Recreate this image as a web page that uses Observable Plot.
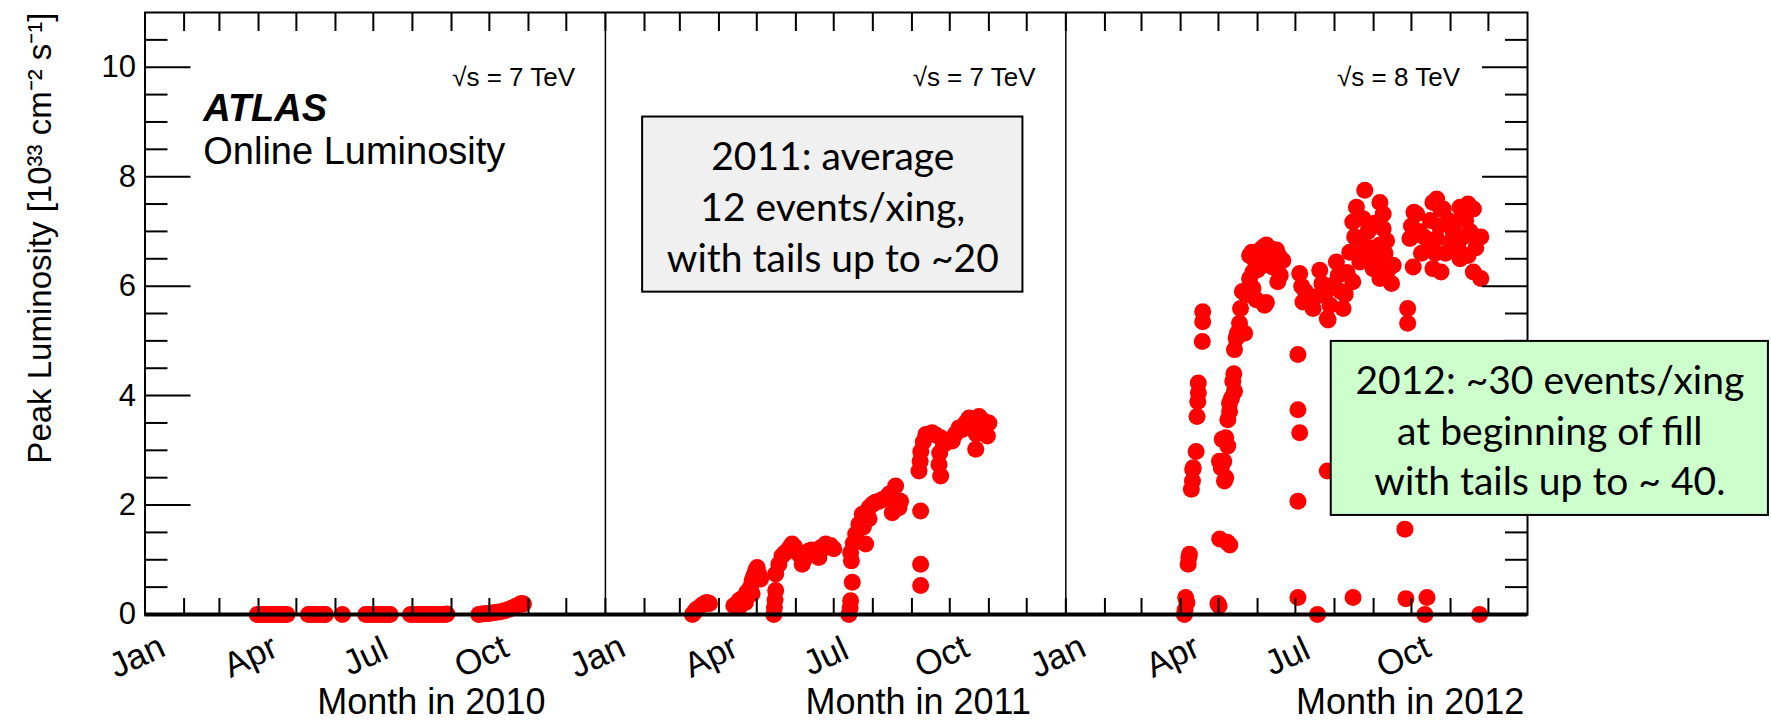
<!DOCTYPE html>
<html>
<head>
<meta charset="utf-8">
<script src="https://cdn.jsdelivr.net/npm/d3@7"></script>
<script src="https://cdn.jsdelivr.net/npm/@observablehq/plot@0.6"></script>
<style>
  body { margin: 0; background: #fff; }
  #chart svg { display: block; }
</style>
</head>
<body>
<div id="chart"></div>
<script>
// Peak luminosity per fill: [day of year (Jan 1 = 1), peak luminosity in 10^33 cm^-2 s^-1]
const lumi2010 = [
  [90,0],[92,0],[94,0],[96,0],[98,0],[100,0],[102,0],[104,0],[106,0],[108,0],[110,0],[112,0],[113.5,0],
  [130.5,0],[133,0],[135.5,0],[138,0],[140.5,0],[143,0],[144,0],[157.5,0],
  [176,0],[178.5,0],[181,0],[183.5,0],[186,0],[188.5,0],[191,0],[193.5,0],[195.3,0],
  [211.5,0],[214,0],[216.5,0],[219,0],[221.5,0],[224,0],[226.5,0],[229,0],[231.5,0],[234,0],[236.5,0],[239,0],[240.3,0.01],
  [265.6,0],[268,0.01],[271,0.02],[274,0.02],[277,0.03],[280,0.04],[283,0.05],[286,0.07],[289,0.09],[292,0.12],[295,0.15],[297.5,0.18],[299.5,0.2],[301,0.19]
];
const lumi2011 = [
  [70,0.0],[71.5,0.04],[73,0.09],[75,0.12],[77.5,0.17],[79.5,0.2],[81.5,0.22],[83.5,0.2],
  [102.8,0.16],[104.5,0.18],[106.8,0.25],[106.8,0.13],[108.5,0.28],[110.7,0.31],[112,0.22],[113,0.4],[114.7,0.44],[116,0.5],[117.3,0.62],[117.3,0.38],[118.5,0.7],[120,0.8],[121.3,0.86],[122.5,0.75],[124,0.65],
  [134.5,0.0],[135,0.13],[135.5,0.27],[136,0.44],
  [136,0.74],[138.5,0.92],[141,1.07],[143,1.12],[145,1.16],[147,1.22],[149,1.29],[151,1.24],[152.5,1.15],[154.5,1.1],[157,0.92],[158.5,1.0],[160.5,1.1],[162.3,1.16],[164.5,1.18],[167.6,1.1],[170.2,1.04],[171.6,1.22],[173.5,1.2],[175.6,1.29],[177.5,1.25],[179.5,1.26],[182,1.2],
  [194,0.0],[195,0.12],[195.4,0.25],[196.7,0.59],[196,0.98],[195.4,1.13],[197.5,1.3],[199.4,1.47],[202,1.65],[204.6,1.83],[205.5,1.6],[207.3,1.29],[209.9,1.95],[210,1.75],[212.5,2.01],[215,2.05],[217.9,2.07],[220.5,2.1],[223.2,2.13],[226,2.2],[228.4,1.86],[231.1,2.35],[233.7,1.95],[235,2.07],
  [250.9,0.53],[250.9,0.92],[250.9,1.89],
  [249.6,2.62],[250.5,2.8],[251,2.98],[253,3.15],[255,3.29],[257.5,3.3],[260,3.32],[263,3.28],[266.8,3.23],[266.8,2.53],[265.5,2.74],[266,2.95],[269,3.1],[272,3.15],[276,3.17],[278.5,3.3],[281.3,3.41],[284,3.38],[286.5,3.5],[289.3,3.59],[292,3.55],[294.6,3.02],[295,3.3],[297.2,3.62],[300,3.55],[302.5,3.47],[303.8,3.26],[305,3.5]
];
const lumi2012 = [
  [95,0.0],[95.5,0.08],[96,0.31],[97,0.22],[98,0.92],[98.5,1.04],[99,1.1],
  [100.5,2.29],[101.4,2.44],[101.6,2.65],[102,2.68],[104.3,2.98],[105,3.62],[105.6,3.89],[106.1,4.05],[106,4.23],[109.2,4.99],[109.5,5.35],[109.5,5.53],
  [121.5,0.2],[122.5,0.16],[123,1.38],[129,1.32],[131,1.27],
  [122.8,2.8],[124.2,2.68],[126.8,2.44],[127.8,2.5],[126.2,2.8],[125,3.2],[127.8,3.23],[129.4,3.08],[129.4,3.56],[130.8,3.71],[130.8,3.86],[132.3,3.95],[133.4,4.26],[134.7,4.08],[134.2,4.4],[134.7,4.84],[136.1,5.05],[137,5.14],[138.7,5.32],[139.5,5.59],[142.7,5.14],[141,5.9],[144,5.84],[146.7,6.14],[149.3,5.96],[152,5.75],[158.6,5.65],
  [146.7,6.56],[148.5,6.62],[150,6.5],[152,6.62],[154.6,6.5],[156,6.68],[158,6.72],[160,6.75],[162,6.7],[164,6.68],[166,6.6],[168,6.66],[170,6.55],[173,6.47],[149.3,6.26],[153,6.3],[157,6.38],[161,6.4],[165,6.35],[169,6.08],[171,6.2],[160,5.7],
  [185,0.31],[185,2.07],[186.4,3.32],[185,3.74],[185,4.75],
  [186.4,6.23],[189,5.71],[188,6.0],[191,5.9],[194,5.75],[197,5.59],[199,5.8],[202.3,6.29],[204,6.05],[206.2,5.84],[208.3,5.41],[208.9,5.38],[210.5,5.65],[212.8,6.02],[215.5,6.44],[217,6.2],[219,5.9],[220.8,5.59],[222.5,5.85],[224,6.25],[226.1,6.62],[228.5,6.08],
  [200.5,0.0],[208.3,2.62],[228.7,0.31],
  [228.5,7.17],[230,6.9],[231.4,7.44],[233,6.6],[234.1,6.87],[234.1,6.44],[236.7,7.23],[238,7.75],[239.4,6.56],[240.5,7.0],[242.5,6.7],[244.6,6.32],[246,7.15],[247.5,6.44],[250,7.53],[250,6.75],[250,6.14],[252.6,7.32],[252.6,7.05],[254,6.6],[255.3,6.83],[256.5,6.3],[259.2,6.05],[260.5,6.38],
  [269.8,1.56],[270.6,0.29],[272,5.59],[272,5.32],
  [273.8,6.87],[275,7.1],[276.4,6.35],[277,7.35],[279.1,7.32],[281,7.0],[283,6.6],[285,6.9],[288.9,6.81],[290,7.2],[292,7.53],[292,6.32],[294,6.6],[295,7.59],[295,6.87],[297,7.1],[298.4,7.41],[298.4,6.26],[300.2,7.41],[302,6.6],[304.3,7.2],[306,6.8],[308,7.0],[310.3,6.93],[310.3,7.17],[312,6.7],[313.5,7.44],[313.5,6.5],[316,6.9],[318,7.2],[319.9,7.5],[319.9,6.56],[321.5,7.0],[324.1,7.41],[324.1,6.26],[326,6.7],[327,6.9],[330,6.9],[330,6.14],
  [285.7,0.0],[287.3,0.31],[329,0.0]
];

const years = [2010, 2011, 2012];
const yearSeries = [lumi2010, lumi2011, lumi2012];

// axis ticks and labels
const quarterNames = ["Jan", "Apr", "Jul", "Oct"];
const yMajorTicks = [0, 2, 4, 6, 8, 10];
const yMinorTicks = [0.5, 1, 1.5, 2.5, 3, 3.5, 4.5, 5, 5.5, 6.5, 7, 7.5, 8.5, 9, 9.5, 10.5];
const yTitle = "Peak Luminosity [10³³ cm⁻² s⁻¹]";
const xTitles = [
  {date: "2010-08-16", label: "Month in 2010"},
  {date: "2011-09-06", label: "Month in 2011"},
  {date: "2012-09-30", label: "Month in 2012"}
];

// annotations
const energyLabels = [
  {date: "2010-12-08", y: 9.65, text: "√s = 7 TeV"},
  {date: "2011-12-08", y: 9.65, text: "√s = 7 TeV"},
  {date: "2012-11-08T12:00", y: 9.65, text: "√s = 8 TeV"}
];
const experimentLabel = [{date: "2010-02-16T05:00", y: 9.0, text: "ATLAS\nOnline Luminosity"}];
const noteBoxes = [
  {x1: "2011-01-30T12:00", x2: "2011-11-28", y1: 5.89, y2: 9.09, fill: "#f0f0f0",
   text: "2011: average\n12 events/xing,\nwith tails up to ~20"},
  {x1: "2012-07-29T10:00", x2: "2013-07-11", y1: 1.81, y2: 4.99, fill: "#ccffcc",
   text: "2012: ~30 events/xing\nat beginning of fill\nwith tails up to ~ 40."}
];

const DAY = 864e5;
const points = years.flatMap((yr, i) =>
  yearSeries[i].map(([day, lumi]) => ({date: new Date(Date.UTC(yr, 0, 1) + (day - 1) * DAY), lumi}))
);
const boxes = noteBoxes.map(b => {
  const x1 = new Date(b.x1), x2 = new Date(b.x2);
  return {...b, x1, x2, cx: new Date((+x1 + +x2) / 2), cy: (b.y1 + b.y2) / 2};
});
const parse = rows => rows.map(r => ({...r, date: new Date(r.date)}));

const xStart = new Date(Date.UTC(2010, 0, 1));
const xEnd = new Date(Date.UTC(2013, 0, 1));
const monthTicks = d3.utcMonth.range(xStart, xEnd);
const quarterTicks = d3.utcMonth.every(3).range(xStart, xEnd);
const yearStarts = years.slice(1).map(y => new Date(Date.UTC(y, 0, 1)));
const blank = () => "";

// tick lengths (px), drawn pointing into the frame
const majorLen = 46, minorLen = 23, bottomLen = 16, topLen = 18;

const chart = Plot.plot({
  width: 1771,
  height: 720,
  marginLeft: 144.5,
  marginRight: 244,
  marginTop: 12,
  marginBottom: 106,
  style: {fontFamily: "'Liberation Sans', Arial, Helvetica, sans-serif", background: "#fff", color: "#000", overflow: "visible"},
  x: {type: "utc", domain: [xStart, xEnd]},
  y: {domain: [0, 11]},
  marks: [
    Plot.dot(points, {x: "date", y: "lumi", r: 8.5, fill: "#ff0000", stroke: null}),

    // panel frame, year dividers and the heavy zero line
    Plot.frame({stroke: "#000", strokeWidth: 2}),
    Plot.ruleX(yearStarts, {stroke: "#000", strokeWidth: 1.5}),
    Plot.ruleY([0], {stroke: "#000", strokeWidth: 4}),

    // inward ticks on all four sides
    Plot.axisX({anchor: "bottom", ticks: monthTicks, tickSize: bottomLen, dy: -bottomLen, strokeWidth: 2, tickFormat: blank, label: null}),
    Plot.axisX({anchor: "top", ticks: monthTicks, tickSize: topLen, dy: topLen, strokeWidth: 2, tickFormat: blank, label: null}),
    Plot.axisY({anchor: "left", ticks: yMajorTicks, tickSize: majorLen, dx: majorLen, strokeWidth: 2, tickFormat: blank, label: null}),
    Plot.axisY({anchor: "left", ticks: yMinorTicks, tickSize: minorLen, dx: minorLen, strokeWidth: 2, tickFormat: blank, label: null}),
    Plot.axisY({anchor: "right", ticks: yMajorTicks, tickSize: majorLen, dx: -majorLen, strokeWidth: 2, tickFormat: blank, label: null}),
    Plot.axisY({anchor: "right", ticks: yMinorTicks, tickSize: minorLen, dx: -minorLen, strokeWidth: 2, tickFormat: blank, label: null}),

    // tick labels
    Plot.axisY({anchor: "left", ticks: yMajorTicks, tickSize: 0, tickPadding: 9, fontSize: 31, label: null}),
    Plot.text(quarterTicks, {x: d => d, text: d => quarterNames[d.getUTCMonth() / 3], frameAnchor: "bottom",
      dy: 42, dx: -8, rotate: -25, fontSize: 35, textAnchor: "middle", lineAnchor: "middle"}),

    // axis titles
    Plot.text(parse(xTitles), {x: "date", text: "label", frameAnchor: "bottom", dy: 99, lineAnchor: "bottom", fontSize: 36}),
    Plot.text([yTitle], {text: d => d, frameAnchor: "top-left", dx: -94, rotate: -90, textAnchor: "end", lineAnchor: "bottom", fontSize: 33}),

    // labels inside the panels
    Plot.text(parse(energyLabels), {x: "date", y: "y", text: "text", textAnchor: "end", lineAnchor: "bottom", fontSize: 26}),
    Plot.text(parse(experimentLabel), {x: "date", y: "y", text: "text", textAnchor: "start", lineAnchor: "top", dy: -32, fontSize: 38, lineHeight: 1.14, className: "experiment"}),

    // note boxes
    Plot.rect(boxes, {x1: "x1", x2: "x2", y1: "y1", y2: "y2", fill: "fill", stroke: "#000", strokeWidth: 2}),
    Plot.text(boxes, {x: "cx", y: "cy", text: "text", fontFamily: "Lato, 'Open Sans', sans-serif", fontSize: 39, lineHeight: 1.3, fill: "#000"})
  ]
});

// the experiment name on the first line is set in bold italic
const firstLine = chart.querySelector(".experiment text tspan");
if (firstLine) {
  firstLine.setAttribute("font-weight", "bold");
  firstLine.setAttribute("font-style", "italic");
}

document.getElementById("chart").append(chart);
</script>
</body>
</html>
